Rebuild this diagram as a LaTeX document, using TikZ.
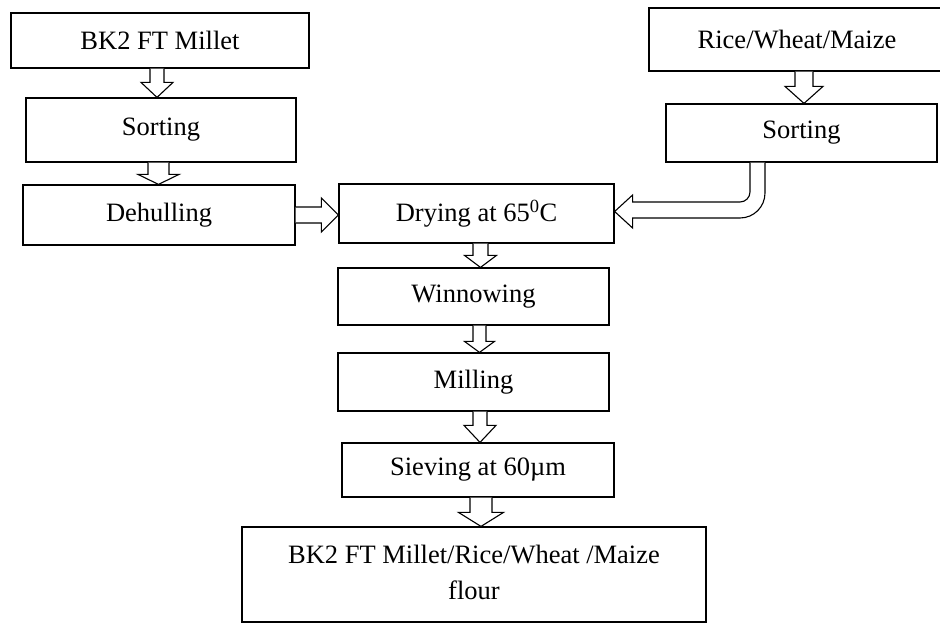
\documentclass[tikz,border=0pt]{standalone}
\usepackage{fontspec}
\setmainfont{Liberation Serif}
\usetikzlibrary{calc}
\tikzset{
  box/.style={draw=black, line width=1.2pt, rectangle, inner sep=0pt, align=center,
    font=\fontsize{26.5}{36}\selectfont},
  blk/.style={draw=black, line width=1.1pt, fill=white, line join=miter},
}
% vertical block arrow: from, to, x centre, shaft half width, head half width, head length
\newcommand{\vblock}[6]{%
  \draw[blk] let \p1=(#1.south), \p2=(#2.north) in
    (#3-#4,\y1) -- (#3-#4,\y2+#6) -- (#3-#5,\y2+#6) -- (#3,\y2)
    -- (#3+#5,\y2+#6) -- (#3+#4,\y2+#6) -- (#3+#4,\y1);}
\begin{document}
\begin{tikzpicture}[x=1pt,y=1pt]
\useasboundingbox (0,0) rectangle (940,-624);
% left column
\node[box, minimum width=298pt, minimum height=55pt] (m1) at (160,-40.5) {BK2 FT Millet};
\node[box, minimum width=270pt, minimum height=64pt] (m2) at (161,-130) {Sorting};
\node[box, minimum width=272pt, minimum height=60pt] (m3) at (159,-215) {Dehulling};
% right column
\node[box, minimum width=296pt, minimum height=63pt] (r1) at (797,-39.5) {Rice/Wheat/Maize};
\node[box, minimum width=271pt, minimum height=58pt] (r2) at (801.5,-133) {Sorting};
% centre column
\node[box, minimum width=275pt, minimum height=59pt] (d) at (476.5,-213.5) {Drying at 65\textsuperscript{0}C};
\node[box, minimum width=271pt, minimum height=57pt] (w) at (473.5,-296.5) {Winnowing};
\node[box, minimum width=271pt, minimum height=58pt] (mi) at (473.5,-382) {Milling};
\node[box, minimum width=272pt, minimum height=54pt] (s) at (478,-470) {Sieving at 60µm};
\node[box, minimum width=464pt, minimum height=95pt] (f) at (474,-574.5)
  {\raisebox{4.5pt}{\begin{tabular}{@{}c@{}}BK2 FT Millet/Rice/Wheat /Maize\\flour\end{tabular}}};
% vertical block arrows
\vblock{m1}{m2}{157}{7}{16}{15}
\vblock{m2}{m3}{158.5}{10.5}{20.5}{10}
\vblock{r1}{r2}{804}{9}{19}{17}
\vblock{d}{w}{480.5}{7.5}{16}{12}
\vblock{w}{mi}{479.5}{6.5}{15}{11}
\vblock{mi}{s}{480}{7}{16}{17}
\vblock{s}{f}{481}{11}{22.5}{14}
% Dehulling -> Drying
\draw[blk] let \p1=(m3.east), \p2=(d.west) in
  (\x1,-207) -- (\x2-17,-207) -- (\x2-17,-198) -- (\x2,-215)
  -- (\x2-17,-232) -- (\x2-17,-223) -- (\x1,-223);
% Sorting (right) -> Drying, bent arrow
\draw[blk] let \p1=(r2.south), \p2=(d.east) in
  (750,\y1) -- (750,-192) arc[start angle=0, end angle=-90, radius=10]
  -- (\x2+18,-202) -- (\x2+18,-195) -- (\x2,-211.5) -- (\x2+18,-228)
  -- (\x2+18,-218) -- (740,-218) arc[start angle=-90, end angle=0, radius=25]
  -- (765,\y1);
\end{tikzpicture}
\end{document}
